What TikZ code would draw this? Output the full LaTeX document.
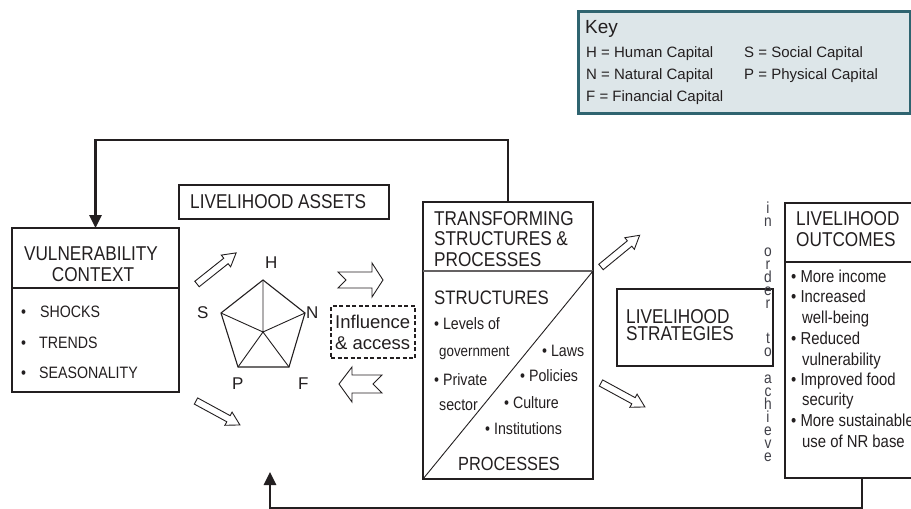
\documentclass[tikz,border=0pt]{standalone}
\usepackage{fontspec}
\setmainfont{Liberation Sans}
\newfontfamily\condf[FakeStretch=0.86]{Liberation Sans}
\usetikzlibrary{arrows.meta}
\definecolor{keyfill}{HTML}{DDE6E9}
\definecolor{keyline}{HTML}{2F6470}
\definecolor{txt}{HTML}{231F20}
\definecolor{vgray}{HTML}{404048}
\newcommand\harrow[4]{\draw[harr,shift={(#1,#2)},rotate=#3] (0,-3.5) -- (#4-13,-3.5) -- (#4-13,-7.5) -- (#4,0) -- (#4-13,7.5) -- (#4-13,3.5) -- (0,3.5) -- cycle;}
\begin{document}
\begin{tikzpicture}[x=1pt,y=-1pt,
  box/.style={draw=txt,line width=1.6pt,rectangle,inner sep=0pt,outer sep=0pt,anchor=north west},
  ttl/.style={inner sep=0pt,text=txt,font=\condf\fontsize{20}{24}\selectfont},
  vbul/.style={inner sep=0pt,text=txt,font=\condf\fontsize{16.5}{20}\selectfont,anchor=base west},
  body/.style={inner sep=0pt,text=txt,font=\condf\fontsize{16.5}{20}\selectfont,anchor=base west},
  obody/.style={inner sep=0pt,text=txt,font=\condf\fontsize{17.3}{20}\selectfont,anchor=base west},
  keyt/.style={inner sep=0pt,text=txt,font=\fontsize{15}{18}\selectfont,anchor=base west},
  pcap/.style={inner sep=0pt,text=txt,font=\fontsize{17}{20}\selectfont,anchor=base west},
  vt/.style={inner sep=0pt,text=vgray,font=\condf\fontsize{16}{13}\selectfont,align=center,anchor=north},
  harr/.style={draw=txt,fill=white,line width=0.9pt,line join=miter},
  fb/.style={draw=txt,line width=2.8pt,line join=miter},
  fbtip/.style={-{Triangle[length=13pt,width=12pt]}},
  pent/.style={draw=txt,line width=1.1pt,line join=miter}]
\useasboundingbox (0,0) rectangle (911,509);
\clip (0,0) rectangle (911,509);
\fill[white] (0,0) rectangle (911,509);

% ---------- Key ----------
\node[box,draw=keyline,fill=keyfill,line width=3pt,minimum width=332pt,minimum height=102pt] (key) at (578,11) {};
\node[inner sep=0pt,text=txt,font=\fontsize{19}{22}\selectfont,anchor=base west] (keyt) at (585,33) {Key};
\node[keyt] (k1) at (586,57) {H = Human Capital};
\node[keyt] (k2) at (586,79) {N = Natural Capital};
\node[keyt] (k3) at (586,101) {F = Financial Capital};
\node[keyt] (k4) at (744,57) {S = Social Capital};
\node[keyt] (k5) at (744,79) {P = Physical Capital};

% ---------- Vulnerability context ----------
\node[box,minimum width=167pt,minimum height=164pt] (vuln) at (12,228) {};
\draw[txt,line width=1.2pt] (vuln.west |- 0,288) -- (vuln.east |- 0,288);
\node[ttl,anchor=base] (vt1) at (91,260) {VULNERABILITY};
\node[ttl,anchor=base] (vt2) at (93,281) {CONTEXT};
\node[vbul] (vb1) at (21,317) {\makebox[19pt][l]{•}SHOCKS};
\node[vbul] (vb2) at (21,348) {\makebox[18pt][l]{•}TRENDS};
\node[vbul] (vb3) at (21,378) {\makebox[18pt][l]{•}SEASONALITY};

% ---------- Livelihood assets ----------
\node[box,line width=1.4pt,minimum width=210pt,minimum height=34pt] (assets) at (179,185) {};
\node[ttl,anchor=base west] (assetst) at (190,208) {LIVELIHOOD ASSETS};

% pentagon
\coordinate (pH) at (263,280);
\coordinate (pN) at (305,313);
\coordinate (pF) at (289,367);
\coordinate (pP) at (238,367);
\coordinate (pS) at (221,313);
\coordinate (pC) at (263,332);
\draw[pent] (pH) -- (pN) -- (pF) -- (pP) -- (pS) -- cycle;
\draw[pent,line width=0.9pt] (pC) -- (pH) (pC) -- (pN) (pC) -- (pF) (pC) -- (pP) (pC) -- (pS);
\node[pcap] (lH) at (265,268) {H};
\node[pcap] (lN) at (306,318) {N};
\node[pcap] (lS) at (197,318) {S};
\node[pcap] (lP) at (232,389) {P};
\node[pcap] (lF) at (298,389) {F};

% hollow arrows
\harrow{197}{284}{38.5}{50}
\harrow{196}{401}{-28.6}{50}
\harrow{601}{267}{39.4}{50}
\harrow{601}{383}{-28.6}{50}
\draw[harr] (338,272) -- (372,272) -- (372,263) -- (383,280) -- (372,297) -- (372,288) -- (338,288) -- (346,280) -- cycle;
\draw[harr] (339,384) -- (352,367) -- (352,375) -- (382,375) -- (373,384) -- (382,393) -- (352,393) -- (352,402) -- cycle;

% influence & access
\node[box,dashed,line width=1.3pt,dash pattern=on 4pt off 2.5pt,minimum width=84pt,minimum height=52pt] (infl) at (331,306) {};
\node[inner sep=0pt,text=txt,font=\fontsize{18.5}{22}\selectfont,anchor=base west] (inf1) at (335,328) {Influence};
\node[inner sep=0pt,text=txt,font=\fontsize{18.5}{22}\selectfont,anchor=base west] (inf2) at (335,349) {\&\ access};

% ---------- Transforming structures ----------
\node[box,minimum width=170pt,minimum height=277pt] (trans) at (423,202) {};
\draw[draw=txt!70,line width=1.3pt] (trans.west |- 0,271) -- (trans.east |- 0,271);
\draw[txt,line width=0.9pt] (trans.south west) -- (trans.east |- 0,271);
\node[ttl,anchor=base west] (tt1) at (434,225) {TRANSFORMING};
\node[ttl,anchor=base west] (tt2) at (434,245) {STRUCTURES \&};
\node[ttl,anchor=base west] (tt3) at (434,266) {PROCESSES};
\node[ttl,font=\condf\fontsize{19.5}{24}\selectfont,anchor=base west] (ts) at (434,304) {STRUCTURES};
\node[body] (tb1) at (434,329) {• Levels of};
\node[body,font=\condf\fontsize{15.5}{18}\selectfont] (tb2) at (439,356) {government};
\node[body] (tb3) at (434,385) {• Private};
\node[body] (tb4) at (439,410) {sector};
\node[body] (tb5) at (542,356) {• Laws};
\node[body] (tb6) at (520,381) {• Policies};
\node[body] (tb7) at (504,408) {• Culture};
\node[body] (tb8) at (485,434) {• Institutions};
\node[ttl,font=\condf\fontsize{19}{24}\selectfont,anchor=base] (tp) at (509,470) {PROCESSES};

% ---------- Livelihood strategies ----------
\node[box,minimum width=156pt,minimum height=77pt] (strat) at (617,289) {};
\node[ttl,anchor=base west] (st1) at (626,323) {LIVELIHOOD};
\node[ttl,anchor=base west] (st2) at (626,340) {STRATEGIES};

% vertical text
\node[vt] (vtext) at (768,202) {i\\n\\[17pt]o\\r\\d\\e\\r\\[22pt]t\\o\\[14pt]a\\c\\h\\i\\e\\v\\e};

% ---------- Livelihood outcomes ----------
\node[box,minimum width=154pt,minimum height=275pt] (out) at (785,203) {};
\draw[txt,line width=1.2pt] (out.west |- 0,262) -- (out.east |- 0,262);
\node[ttl,anchor=base west] (ot1) at (796,225) {LIVELIHOOD};
\node[ttl,anchor=base west] (ot2) at (796,246) {OUTCOMES};
\node[obody] (ob1) at (791,282) {• More income};
\node[obody] (ob2) at (791,302) {• Increased};
\node[obody] (ob3) at (802,323) {well-being};
\node[obody] (ob4) at (791,344) {• Reduced};
\node[obody] (ob5) at (802,365) {vulnerability};
\node[obody] (ob6) at (791,385) {• Improved food};
\node[obody] (ob7) at (802,405) {security};
\node[obody] (ob8) at (791,426) {• More sustainable};
\node[obody] (ob9) at (802,447) {use of NR base};

% ---------- feedback arrows ----------
\coordinate (fbtl) at (vuln.north |- 0,140);
\draw[fb,fbtip] (trans.north) -- (trans.north |- fbtl) -- (fbtl) -- (vuln.north);
\coordinate (astip) at (270,472);
\draw[fb,fbtip] (out.south) -- (out.south |- 0,508) -- (astip |- 0,508) -- (astip);
\end{tikzpicture}
\end{document}
